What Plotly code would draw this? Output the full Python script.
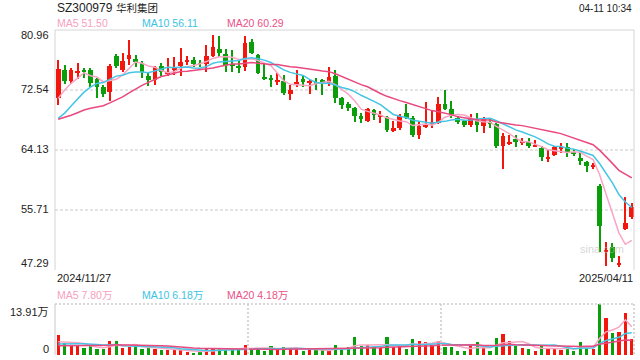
import plotly.graph_objects as go
import pandas as pd

W, H = 640, 360

# ---------------- data ----------------
title_code = "SZ300979"
title_name = "华利集团"
timestamp = "04-11 10:34"
date_labels = ["2024/11/27", "2025/04/11"]
price_ticks = [80.96, 72.54, 64.13, 55.71, 47.29]
vol_ticks = [13.91, 0]
vol_tick_text = ["13.91万", "0"]
ma_price_labels = ["MA5 51.50", "MA10 56.11", "MA20 60.29"]
ma_vol_labels = ["MA5 7.80万", "MA10 6.18万", "MA20 4.18万"]

open_ = [71.47, 75.35, 73.81, 75.00, 75.35, 75.35, 74.09, 72.92, 72.31, 77.31,
         75.35, 76.89, 76.89, 76.28, 74.51, 73.95, 75.91, 74.86, 75.35, 75.96,
         76.58, 76.75, 76.21, 76.14, 77.31, 78.29, 77.59, 76.08, 75.78, 75.82,
         79.23, 77.45, 74.25, 74.27, 73.76, 73.81, 71.98, 73.24, 74.09, 73.57,
         73.71, 73.95, 73.38, 74.55, 71.37, 70.62, 70.06, 68.94, 68.19, 69.74,
         68.87, 68.80, 66.79, 67.26, 69.36, 68.57, 66.23, 67.49, 67.87, 67.96,
         70.58, 69.88, 68.66, 68.19, 67.63, 68.33, 67.54, 68.10, 67.73, 64.73,
         65.00, 65.67, 65.15, 65.29, 64.64, 64.36, 63.00, 63.42, 64.31, 64.50,
         63.70, 63.05, 62.49, 61.85, 59.08, 49.93, 50.57, 48.13, 53.04, 54.77]
high = [76.75, 76.05, 75.58, 76.28, 75.58, 75.68, 74.27, 73.24, 76.14, 77.59,
        77.78, 79.56, 77.45, 76.66, 74.97, 75.96, 76.28, 76.99, 77.22, 78.39,
        77.31, 77.13, 76.75, 78.86, 80.26, 80.12, 78.25, 78.15, 76.75, 80.12,
        79.70, 77.59, 76.38, 74.65, 74.88, 74.65, 73.24, 75.35, 74.65, 73.95,
        74.18, 74.04, 75.82, 75.35, 71.61, 70.90, 70.11, 69.27, 70.06, 69.83,
        69.64, 68.89, 68.24, 69.13, 70.53, 68.89, 68.19, 70.81, 69.60, 71.51,
        72.54, 71.00, 68.89, 68.33, 69.17, 69.27, 68.80, 68.57, 67.87, 66.46,
        66.23, 66.23, 65.76, 65.76, 65.53, 64.69, 64.13, 64.69, 65.06, 65.15,
        64.22, 63.66, 62.58, 62.26, 59.31, 51.27, 51.13, 49.26, 57.58, 56.64]
low = [70.44, 73.38, 73.38, 74.09, 74.18, 73.01, 71.47, 71.61, 71.05, 75.58,
       75.11, 76.05, 75.82, 74.18, 73.10, 73.24, 74.51, 74.55, 74.65, 74.55,
       76.05, 75.72, 75.82, 75.11, 77.22, 77.22, 75.11, 75.11, 74.88, 75.25,
       77.59, 74.74, 73.95, 73.01, 73.24, 71.84, 71.14, 72.92, 73.01, 71.94,
       72.54, 71.84, 73.10, 70.67, 69.83, 69.55, 68.01, 67.96, 68.10, 68.33,
       67.87, 66.70, 66.60, 66.93, 68.43, 65.90, 65.62, 67.16, 67.16, 67.77,
       69.74, 68.57, 67.77, 67.40, 67.40, 66.70, 66.56, 67.17, 64.36, 61.46,
       64.83, 64.50, 64.83, 64.45, 64.50, 62.63, 62.49, 63.33, 63.66, 63.19,
       63.33, 62.02, 61.09, 61.46, 49.86, 47.90, 48.46, 47.76, 52.96, 54.45]
close = [75.49, 73.81, 75.35, 75.02, 75.02, 73.48, 72.92, 71.98, 75.91, 75.91,
         76.61, 77.45, 76.42, 75.11, 73.95, 75.82, 75.11, 74.88, 75.82, 76.42,
         76.61, 76.14, 76.19, 77.31, 78.62, 77.78, 76.05, 75.96, 75.72, 79.09,
         77.78, 74.88, 74.18, 73.95, 73.85, 72.17, 72.54, 73.71, 73.71, 73.62,
         73.48, 73.62, 74.32, 71.37, 70.44, 70.08, 68.89, 68.47, 69.83, 69.03,
         68.92, 66.93, 67.16, 68.89, 68.57, 66.23, 67.54, 67.54, 68.10, 70.58,
         69.88, 68.94, 68.10, 67.63, 68.66, 67.63, 68.43, 67.77, 64.73, 66.14,
         65.06, 65.29, 65.20, 64.73, 64.69, 63.10, 63.05, 64.50, 64.36, 63.89,
         63.66, 62.58, 61.88, 61.88, 53.46, 49.97, 49.02, 48.17, 53.84, 56.18]
volume = [5.47, 3.25, 2.69, 2.41, 1.85, 2.50, 1.58, 1.58, 3.80, 3.80,
          1.85, 2.13, 2.60, 1.58, 1.95, 1.58, 1.30, 1.30, 1.58, 1.30,
          0.74, 0.46, 0.74, 1.58, 1.85, 1.85, 1.58, 1.58, 1.58, 2.69,
          1.58, 1.85, 1.02, 2.41, 1.58, 2.13, 1.85, 1.85, 1.02, 1.30,
          1.30, 1.30, 1.21, 2.69, 1.58, 2.10, 4.92, 2.41, 2.69, 2.13,
          1.85, 4.92, 2.13, 2.41, 1.58, 4.36, 3.80, 3.52, 2.69, 3.80,
          2.13, 2.13, 1.02, 1.02, 2.41, 3.52, 1.85, 1.02, 4.64, 5.75,
          3.80, 2.41, 1.85, 1.58, 1.02, 2.41, 1.85, 1.85, 1.30, 1.85,
          1.02, 3.52, 2.41, 1.58, 13.91, 10.20, 6.03, 6.31, 11.59, 4.36]
# sessions before the visible window (feed the moving averages)
prev_close = [68.5, 69.2, 68.0, 67.6, 68.4, 69.0, 68.8, 67.9, 68.2, 67.3,
              66.5, 65.4, 65.0, 65.6, 66.35, 67.96, 70.65, 71.52, 71.23]
prev_volume = [2.1, 1.8, 2.3, 1.9, 2.2, 1.7, 2.0, 2.4, 1.6, 2.0,
               2.6, 2.2, 2.8, 2.1, 2.3, 3.4, 2.9, 3.3, 2.9]

# ---------------- styles ----------------
RED, GREEN = "#f2160d", "#0a9e0a"
MA_COLORS = ["#f9a6c4", "#45c5e5", "#e9497f"]
MA_TEXT = ["#f7a0c0", "#3cc3e3", "#ec4f86"]
FONT = "Liberation Sans, Arial, Noto Sans CJK SC, sans-serif"
X0, X1 = 55, 635          # plot left/right in pixels
MAIN_T, MAIN_B = 30, 270  # main pane top/bottom
VOL_T, VOL_B = 304, 355   # volume pane top/bottom


def px(x):
    return x / W


def py(y):
    return 1 - y / H


n = len(close)
idx = list(range(n))
up = [c >= o for o, c in zip(open_, close)]
colors = [RED if u else GREEN for u in up]
body_base = [min(o, c) for o, c in zip(open_, close)]
body_h = [max(abs(c - o), 0.12) for o, c in zip(open_, close)]
wick_h = [h - l for h, l in zip(high, low)]

closes_all = pd.Series(prev_close + close)
vols_all = pd.Series(prev_volume + volume)
k = len(prev_close)
ma_price = [closes_all.rolling(m).mean().tolist()[k:] for m in (5, 10, 20)]
ma_vol = [vols_all.rolling(m).mean().tolist()[k:] for m in (5, 10, 20)]

fig = go.Figure()
# wicks
fig.add_trace(go.Bar(x=idx, y=wick_h, base=low, width=0.16, marker_color=colors,
                     marker_line_width=0, xaxis="x", yaxis="y", showlegend=False))
# bodies
fig.add_trace(go.Bar(x=idx, y=body_h, base=body_base, width=0.72, marker_color=colors,
                     marker_line_width=0, xaxis="x", yaxis="y", showlegend=False))
for vals, col in zip(ma_price, MA_COLORS):
    fig.add_trace(go.Scatter(x=idx, y=vals, mode="lines", line=dict(color=col, width=1.5),
                             xaxis="x", yaxis="y", showlegend=False, hoverinfo="skip"))
# volume
fig.add_trace(go.Bar(x=idx, y=volume, width=0.5, marker_color=colors, marker_line_width=0,
                     xaxis="x2", yaxis="y2", showlegend=False))
for vals, col in zip(ma_vol, MA_COLORS):
    fig.add_trace(go.Scatter(x=idx, y=vals, mode="lines", line=dict(color=col, width=1.5),
                             xaxis="x2", yaxis="y2", showlegend=False, hoverinfo="skip"))

xr = [-0.5, n - 0.5]
fig.update_layout(
    width=W, height=H, margin=dict(l=0, r=0, t=0, b=0),
    paper_bgcolor="white", plot_bgcolor="white", barmode="overlay", bargap=0,
    font=dict(family=FONT, size=11, color="#333"),
    xaxis=dict(domain=[px(X0), px(X1)], range=xr, visible=False, fixedrange=True),
    xaxis2=dict(domain=[px(X0), px(X1)], range=xr, visible=False, anchor="y2"),
    yaxis=dict(domain=[py(MAIN_B), py(MAIN_T)], range=[price_ticks[-1], price_ticks[0]],
               tickvals=price_ticks[1:-1], showticklabels=False, ticks="",
               showgrid=True, gridcolor="#e4e4e4", gridwidth=2, griddash="3px,2px",
               zeroline=False, showline=False),
    yaxis2=dict(domain=[py(VOL_B), py(VOL_T)], range=[0, vol_ticks[0]], anchor="x2",
                showticklabels=False, ticks="", showgrid=False, zeroline=False),
)

shapes = []
GRID = "#d4d4d4"
# main pane frame (top, left, right)
shapes.append(dict(type="line", xref="paper", yref="paper", x0=px(X0), x1=px(X1 - 1),
                   y0=py(MAIN_T), y1=py(MAIN_T), line=dict(color=GRID, width=1)))
for xx in (X0, X1 - 1):
    shapes.append(dict(type="line", xref="paper", yref="paper", x0=px(xx), x1=px(xx),
                       y0=py(MAIN_T), y1=py(MAIN_B), line=dict(color=GRID, width=1)))
# volume pane
shapes.append(dict(type="line", xref="paper", yref="paper", x0=px(X0), x1=px(X1 - 1),
                   y0=py(VOL_T), y1=py(VOL_T), line=dict(color="#cccccc", width=1.5, dash="2px,2px")))
shapes.append(dict(type="line", xref="paper", yref="paper", x0=px(X0), x1=px(X0),
                   y0=py(VOL_T), y1=py(VOL_B), line=dict(color="#c8c8c8", width=1)))
for frac in (1 / 3, 2 / 3, 1.0):
    xx = X0 + (X1 - 1 - X0) * frac
    shapes.append(dict(type="line", xref="paper", yref="paper", x0=px(xx), x1=px(xx),
                       y0=py(VOL_T), y1=py(VOL_B), line=dict(color="#cccccc", width=1.5, dash="2px,2px")))
fig.update_layout(shapes=shapes)

ann = []
ann.append(dict(text=title_code, x=px(X0), y=py(8), xref="paper", yref="paper",
                xanchor="left", yanchor="middle", showarrow=False,
                font=dict(size=12, color="#222")))
ann.append(dict(text=title_name, x=px(114), y=py(8), xref="paper", yref="paper",
                xanchor="left", yanchor="middle", showarrow=False,
                font=dict(size=10.5, color="#222")))
ann.append(dict(text=timestamp, x=px(634), y=py(8.5), xref="paper", yref="paper",
                xanchor="right", yanchor="middle", showarrow=False,
                font=dict(size=10, color="#222")))
for i, (t, c) in enumerate(zip(ma_price_labels, MA_TEXT)):
    ann.append(dict(text=t, x=px(X0 + 85 * i), y=py(23.5), xref="paper", yref="paper",
                    xanchor="left", yanchor="middle", showarrow=False,
                    font=dict(size=10.5, color=c)))
for i, (t, c) in enumerate(zip(ma_vol_labels, MA_TEXT)):
    ann.append(dict(text=t, x=px(X0 + 85 * i), y=py(295), xref="paper", yref="paper",
                    xanchor="left", yanchor="middle", showarrow=False,
                    font=dict(size=10.5, color=c)))
shifts = [-5, 1, 1, 1, 7]
for v, s in zip(price_ticks, shifts):
    ann.append(dict(text=f"{v:.2f}", x=px(51), y=v, xref="paper", yref="y",
                    xanchor="right", yanchor="middle", yshift=s, showarrow=False,
                    font=dict(size=11, color="#222")))
for v, t, s in zip(vol_ticks, vol_tick_text, [-7.5, 6]):
    ann.append(dict(text=t, x=px(51), y=v, xref="paper", yref="y2",
                    xanchor="right", yanchor="middle", yshift=s, showarrow=False,
                    font=dict(size=11, color="#222")))
ann.append(dict(text=date_labels[0], x=xr[0], y=py(278), xref="x", yref="paper",
                xanchor="left", yanchor="middle", showarrow=False,
                font=dict(size=11, color="#222")))
ann.append(dict(text=date_labels[1], x=xr[1], y=py(278), xref="x", yref="paper",
                xanchor="right", yanchor="middle", showarrow=False,
                font=dict(size=11, color="#222")))
ann.append(dict(text="sina.com", x=px(602), y=py(249), xref="paper", yref="paper",
                xanchor="center", yanchor="middle", showarrow=False,
                font=dict(size=11, color="rgba(185,185,185,0.6)")))
fig.update_layout(annotations=ann)

fig.write_html("out.html")
